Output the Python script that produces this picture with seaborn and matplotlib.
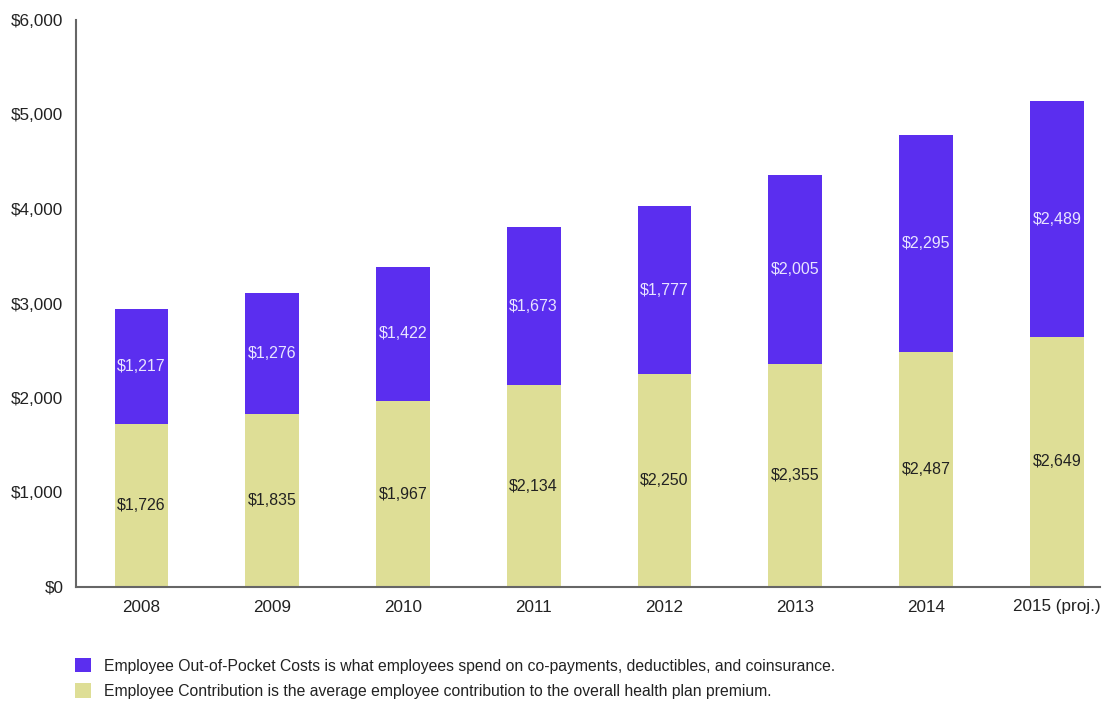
import matplotlib
matplotlib.use("Agg")
import matplotlib.pyplot as plt
import seaborn as sns
import pandas as pd
from matplotlib.patches import Patch
from matplotlib.ticker import FuncFormatter

years = ["2008", "2009", "2010", "2011", "2012", "2013", "2014", "2015 (proj.)"]
contribution = [1726, 1835, 1967, 2134, 2250, 2355, 2487, 2649]
out_of_pocket = [1217, 1276, 1422, 1673, 1777, 2005, 2295, 2489]
legend_labels = [
    "Employee Out-of-Pocket Costs is what employees spend on co-payments, deductibles, and coinsurance.",
    "Employee Contribution is the average employee contribution to the overall health plan premium.",
]

purple = "#5B2EEF"
yellow = "#DEDE96"

sns.set_theme(style="white")
plt.rcParams["font.family"] = ["Liberation Sans", "DejaVu Sans"]

df = pd.DataFrame({"year": years, "contrib": contribution, "oop": out_of_pocket})

fig = plt.figure(figsize=(11.07, 7.02), dpi=100)
ax = fig.add_axes([76 / 1107, 1 - 587 / 702, (1100 - 76) / 1107, (587 - 20) / 702])

sns.barplot(data=df, x="year", y="contrib", color=yellow, saturation=1, width=0.41,
            linewidth=0, ax=ax)
sns.barplot(data=df, x="year", y="oop", color=purple, saturation=1, width=0.41,
            linewidth=0, bottom=df["contrib"], ax=ax)

for i, (c, o) in enumerate(zip(contribution, out_of_pocket)):
    ax.text(i, c / 2, f"${c:,}", ha="center", va="center", fontsize=11.5, color="#222222")
    ax.text(i, c + o / 2, f"${o:,}", ha="center", va="center", fontsize=11.5, color="#E8E4FF")

ax.set_ylim(0, 6000)
ax.set_xlim(-0.5, 7.33)
ax.set_yticks(range(0, 6001, 1000))
ax.yaxis.set_major_formatter(FuncFormatter(lambda v, p: f"${int(v):,}"))
ax.set_xlabel("")
ax.set_ylabel("")
ax.tick_params(axis="both", length=0, labelsize=12.3, colors="#222222")
ax.tick_params(axis="x", pad=9)
ax.tick_params(axis="y", pad=9)
for s in ["top", "right"]:
    ax.spines[s].set_visible(False)
for s in ["left", "bottom"]:
    ax.spines[s].set_color("#666666")
    ax.spines[s].set_linewidth(1.5)

handles = [Patch(facecolor=purple, edgecolor="none"), Patch(facecolor=yellow, edgecolor="none")]
fig.legend(handles, legend_labels, loc="upper left", bbox_to_anchor=(61 / 1107, 1 - 644 / 702),
           frameon=False, fontsize=11.35, handlelength=1.0, handleheight=1.0, handletextpad=0.8,
           labelspacing=0.62, labelcolor="#222222")

fig.savefig("out.png", dpi=100)
